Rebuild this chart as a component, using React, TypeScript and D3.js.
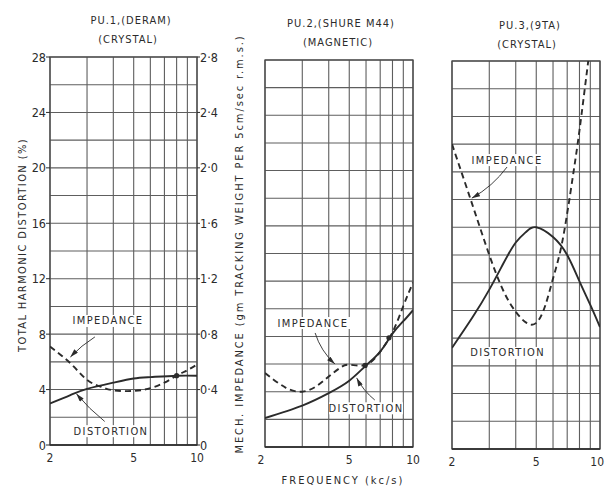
import * as d3 from 'd3';
import * as React from 'react';

const width = 605;
const height = 488;

// frequency grid (kc/s) and value grid (per cent / x10 for impedance)
const freqGrid = [2, 3, 4, 5, 6, 7, 8, 9, 10];
const freqLabels = [2, 5, 10];
const valueGrid = [0, 2, 4, 6, 8, 10, 12, 14, 16, 18, 20, 22, 24, 26, 28];
const leftTicks = [0, 4, 8, 12, 16, 20, 24, 28];
const leftTickLabels = ['0', '4', '8', '12', '16', '20', '24', '28'];
const rightTickLabels = ['0', '0·4', '0·8', '1·2', '1·6', '2·0', '2·4', '2·8'];

type Pt = [number, number];

// PU.1 (Deram, crystal)
const pu1Distortion: Pt[] = [
  [2, 3.0], [2.5, 3.6], [3, 4.05], [4, 4.5], [5, 4.8], [6, 4.9], [8, 5.0], [10, 5.0],
];
const pu1Impedance: Pt[] = [
  [2, 7.1], [2.5, 5.9], [3, 4.7], [3.5, 4.2], [4, 3.95], [5, 3.9], [6, 4.1], [7, 4.5], [8, 5.0], [9, 5.4], [10, 5.8],
];
const pu1Dots: Pt[] = [[8, 5.0]];

// PU.2 (Shure M44, magnetic)
const pu2Distortion: Pt[] = [
  [2, 2.1], [3, 3.0], [4, 3.9], [5, 4.8], [6, 5.9], [7, 6.9], [8, 8.2], [9, 9.1], [10, 9.9],
];
const pu2Impedance: Pt[] = [
  [2, 5.35], [2.5, 4.3], [3, 4.0], [3.5, 4.4], [4, 5.1], [4.5, 5.7], [5, 5.95], [6, 5.95], [7, 6.9], [8, 8.3], [9, 10.2], [10, 11.9],
];
const pu2Dots: Pt[] = [[5.94, 5.9], [7.7, 7.9]];

// PU.3 (9TA, crystal)
const pu3Distortion: Pt[] = [
  [2, 7.3], [2.5, 9.5], [3, 11.5], [3.5, 13.4], [4, 14.9], [4.5, 15.7], [5, 16.0], [6, 15.3], [7, 14.0], [8, 12.1], [9, 10.4], [10, 8.8],
];
const pu3Impedance: Pt[] = [
  [2, 22.0], [2.5, 17.6], [3, 14.0], [3.5, 11.4], [4, 9.9], [4.5, 9.1], [5, 9.1], [5.5, 10.3], [6, 12.3], [6.5, 14.3], [7, 17.0], [7.5, 20.0], [8, 23.0], [8.8, 28.0],
];

const titles = [
  ['PU.1,(DERAM)', '(CRYSTAL)'],
  ['PU.2,(SHURE M44)', '(MAGNETIC)'],
  ['PU.3,(9TA)', '(CRYSTAL)'],
];

type Note = { text: string; at: Pt; from?: Pt; to?: Pt; bend?: number };

const pu1Notes: Note[] = [
  { text: 'IMPEDANCE', at: [3.77, 8.95], from: [3.27, 7.8], to: [2.5, 6.35], bend: 2 },
  { text: 'DISTORTION', at: [3.9, 1.0], from: [3.64, 1.7], to: [2.67, 3.7], bend: -2 },
];
const pu2Notes: Note[] = [
  { text: 'IMPEDANCE', at: [3.37, 8.97], from: [3.45, 8.25], to: [4.28, 6.0], bend: 5 },
  { text: 'DISTORTION', at: [6.0, 2.8], from: [6.6, 3.4], to: [5.42, 5.0], bend: -3 },
];
const pu3Notes: Note[] = [
  { text: 'IMPEDANCE', at: [3.64, 20.85], from: [3.64, 20.35], to: [2.48, 18.1], bend: -5 },
  { text: 'DISTORTION', at: [3.66, 6.93] },
];

const ink = '#2b2b2b';
const gridInk = '#5e5e5e';
const font = "'DejaVu Sans Condensed', 'Liberation Sans Narrow', 'DejaVu Sans', sans-serif";

type Box = { x0: number; x1: number; y0: number; y1: number; titleX: number; titleY: number };

const boxes: Box[] = [
  { x0: 50, x1: 197, y0: 57, y1: 445, titleX: 131, titleY: 20 },
  { x0: 265, x1: 413, y0: 60, y1: 447, titleX: 341, titleY: 23 },
  { x0: 452, x1: 600, y0: 61, y1: 449, titleX: 530, titleY: 25 },
];

function Panel({
  idx, distortion, impedance, dots, notes, axes,
}: {
  idx: number; distortion: Pt[]; impedance: Pt[]; dots: Pt[]; notes: Note[]; axes: boolean;
}) {
  const b = boxes[idx];
  const x = d3.scaleLog().domain([2, 10]).range([b.x0, b.x1]);
  const y = d3.scaleLinear().domain([0, 28]).range([b.y1, b.y0]);
  const line = d3
    .line<Pt>()
    .x(d => x(d[0]))
    .y(d => y(d[1]))
    .curve(d3.curveNatural);
  const clipId = `clip${idx}`;

  const arrow = (n: Note) => {
    if (!n.from || !n.to) return null;
    const x1 = x(n.from[0]), y1 = y(n.from[1]);
    const x2 = x(n.to[0]), y2 = y(n.to[1]);
    const mx = (x1 + x2) / 2, my = (y1 + y2) / 2;
    const len = Math.hypot(x2 - x1, y2 - y1) || 1;
    const k = n.bend || 0;
    const p = d3.path();
    p.moveTo(x1, y1);
    p.quadraticCurveTo(mx - ((y2 - y1) / len) * k, my + ((x2 - x1) / len) * k, x2, y2);
    return <path d={p.toString()} fill="none" stroke={ink} strokeWidth={0.9} markerEnd="url(#head)" />;
  };

  return (
    <g>
      <defs>
        <clipPath id={clipId}>
          <rect x={b.x0} y={b.y0} width={b.x1 - b.x0} height={b.y1 - b.y0} />
        </clipPath>
      </defs>
      <text x={b.titleX} y={b.titleY} textAnchor="middle" dominantBaseline="central" fontSize={11} letterSpacing={1} fill={ink}>
        {titles[idx][0]}
      </text>
      <text x={b.titleX - 3} y={b.titleY + 19} textAnchor="middle" dominantBaseline="central" fontSize={11} letterSpacing={1} fill={ink}>
        {titles[idx][1]}
      </text>
      {valueGrid.map(v => (
        <line key={`h${v}`} x1={b.x0} x2={b.x1} y1={y(v)} y2={y(v)} stroke={gridInk} strokeWidth={1.1} />
      ))}
      {freqGrid.map(f => (
        <line key={`v${f}`} x1={x(f)} x2={x(f)} y1={b.y0} y2={b.y1} stroke={gridInk} strokeWidth={1.1} />
      ))}
      <rect x={b.x0} y={b.y0} width={b.x1 - b.x0} height={b.y1 - b.y0} fill="none" stroke="#4a4a4a" strokeWidth={1.3} />
      <line x1={b.x0} x2={b.x1} y1={b.y1} y2={b.y1} stroke={ink} strokeWidth={1.7} />
      {axes &&
        leftTicks.map((v, i) => (
          <g key={`lt${v}`}>
            <line x1={b.x0 - 4} x2={b.x0} y1={y(v)} y2={y(v)} stroke={ink} strokeWidth={1} />
            <line x1={b.x1} x2={b.x1 + 3} y1={y(v)} y2={y(v)} stroke={ink} strokeWidth={1} />
            <text x={b.x0 - 4} y={y(v)} textAnchor="end" dominantBaseline="central" fontSize={12.5} fill={ink}>
              {leftTickLabels[i]}
            </text>
            <text x={b.x1 + 3} y={y(v)} textAnchor="start" dominantBaseline="central" fontSize={12.5} fill={ink}>
              {rightTickLabels[i]}
            </text>
          </g>
        ))}
      {freqLabels.map(f => {
        const last = idx === 2 && f === 10;
        return (
          <text
            key={`fl${f}`}
            x={last ? width - 1 : x(f) - (idx === 1 && f === 2 ? 4 : 0)}
            y={b.y1 + 13}
            textAnchor={last ? 'end' : 'middle'}
            dominantBaseline="central"
            fontSize={12}
            fill={ink}
          >
            {f}
          </text>
        );
      })}
      <g clipPath={`url(#${clipId})`}>
        <path d={line(impedance) || ''} fill="none" stroke={ink} strokeWidth={1.9} strokeDasharray="6,4" />
        <path d={line(distortion) || ''} fill="none" stroke={ink} strokeWidth={1.9} />
      </g>
      {dots.map((d, i) => (
        <circle key={`d${i}`} cx={x(d[0])} cy={y(d[1])} r={2.6} fill={ink} />
      ))}
      {notes.map((n, i) => (
        <g key={`n${i}`}>
          <rect x={x(n.at[0]) - 37} y={y(n.at[1]) - 6} width={74} height={12} fill="#fff" />
          <text x={x(n.at[0])} y={y(n.at[1])} textAnchor="middle" dominantBaseline="central" fontSize={11} letterSpacing={1.4} fill={ink}>
            {n.text}
          </text>
          {arrow(n)}
        </g>
      ))}
    </g>
  );
}

export default function App() {
  return (
    <svg
      width={width}
      height={height}
      viewBox={`0 0 ${width} ${height}`}
      style={{ position: 'absolute', left: 0, top: 0, background: '#fff', fontFamily: font }}
    >
      <defs>
        <marker id="head" viewBox="0 0 10 6" refX={10} refY={3} markerWidth={9} markerHeight={5} markerUnits="userSpaceOnUse" orient="auto">
          <path d="M0,0 L10,3 L0,6 Z" fill={ink} />
        </marker>
      </defs>
      <rect width={width} height={height} fill="#fff" />
      <Panel idx={0} distortion={pu1Distortion} impedance={pu1Impedance} dots={pu1Dots} notes={pu1Notes} axes />
      <Panel idx={1} distortion={pu2Distortion} impedance={pu2Impedance} dots={pu2Dots} notes={pu2Notes} axes={false} />
      <Panel idx={2} distortion={pu3Distortion} impedance={pu3Impedance} dots={[]} notes={pu3Notes} axes={false} />
      <text
        transform="translate(22,245) rotate(-90)"
        textAnchor="middle"
        dominantBaseline="central"
        fontSize={11}
        letterSpacing={1.4}
        fill={ink}
      >
        TOTAL HARMONIC DISTORTION (%)
      </text>
      <text
        transform="translate(239,244) rotate(-90)"
        textAnchor="middle"
        dominantBaseline="central"
        fontSize={11}
        letterSpacing={1.9}
        fill={ink}
      >
        MECH. IMPEDANCE (gm TRACKING WEIGHT PER 5cm/sec r.m.s.)
      </text>
      <text x={343} y={480} textAnchor="middle" dominantBaseline="central" fontSize={11} letterSpacing={2} fill={ink}>
        FREQUENCY (kc/s)
      </text>
    </svg>
  );
}
